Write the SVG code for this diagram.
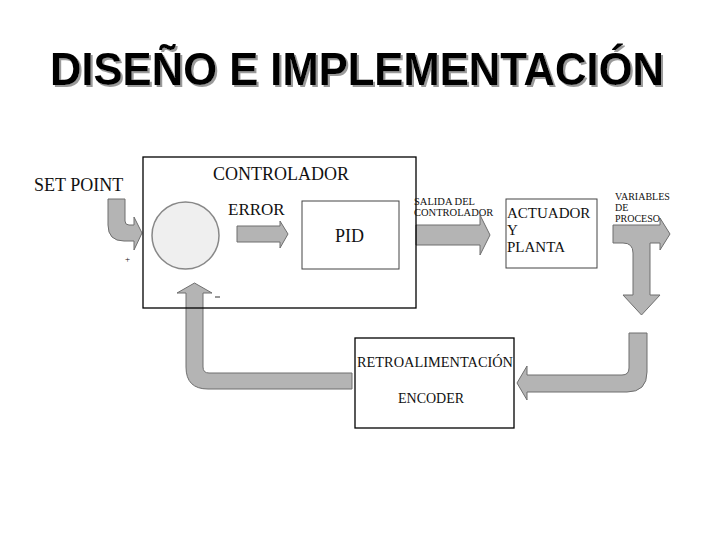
<svg xmlns="http://www.w3.org/2000/svg" width="720" height="540" viewBox="0 0 720 540">
<style>
.title{font-family:"Liberation Sans",Arial,sans-serif;font-weight:bold;font-size:47px}
.t{font-family:"Liberation Serif","Times New Roman",serif;fill:#111}
.arrow{fill:#b4b4b4;stroke:#6f6f6f;stroke-width:1;stroke-linejoin:round}
.box{fill:#fff;stroke:#000;stroke-width:1.3}
</style>
<defs>
<filter id="shadow" x="-5%" y="-20%" width="110%" height="140%">
<feOffset in="SourceAlpha" dx="2" dy="2" result="off"/>
<feFlood flood-color="#9a9a9a"/>
<feComposite in2="off" operator="in" result="sh"/>
<feMerge><feMergeNode in="sh"/><feMergeNode in="SourceGraphic"/></feMerge>
</filter>
</defs>
<rect width="720" height="540" fill="#fff"/>
<g id="title">
<text class="title" x="50" y="85" fill="#000" filter="url(#shadow)" textLength="614" lengthAdjust="spacingAndGlyphs">DISEÑO E IMPLEMENTACIÓN</text>
</g>
<g id="connectors">
<path class="arrow" d="M108,199 L125,199 L125,221 Q125,225 129,225 L134,225 L134,217 L142,233 L134,250 L134,241 L124,241 Q108,241 108,225 Z"/>
<path class="arrow" d="M237,226 L280,226 L280,221 L288,234 L280,248 L280,242 L237,242 Z"/>
<path class="arrow" d="M416,225 L480,225 L480,215 L490,235 L480,255 L480,245 L416,245 Z"/>
<path class="arrow" d="M613,225 L660,225 L660,218 L670,234 L660,250 L660,243 L650,243 L650,295 L660,295 L641.5,315 L623,295 L633,295 L633,253 Q633,243 623,243 L613,243 Z"/>
<path class="arrow" d="M629,333 L647,333 L647,372 Q647,392 627,392 L527,392 L527,400 L517,383 L527,366 L527,375 L622,375 Q629,375 629,368 Z"/>
<path class="arrow" d="M352,373 L209,373 Q203,373 203,367 L203,293 L212,293 L194.5,283 L177,293 L186,293 L186,367 Q186,389 208,389 L352,389 Z"/>
</g>
<g id="setpoint">
<text class="t" x="34" y="191" font-size="18">SET POINT</text>
<text class="t" x="125" y="262" font-size="9">+</text>
</g>
<g id="controlador">
<rect x="143" y="157" width="273" height="151" fill="none" stroke="#000" stroke-width="1.3"/>
<text class="t" x="213" y="180" font-size="18">CONTROLADOR</text>
<line x1="215" y1="297" x2="220" y2="297" stroke="#333" stroke-width="1"/>
</g>
<g id="sumador">
<circle cx="185.5" cy="235.5" r="33.5" fill="#efefef" stroke="#888" stroke-width="1.5"/>
</g>
<g id="error-label">
<text class="t" x="228" y="215" font-size="17">ERROR</text>
</g>
<g id="pid">
<rect x="302" y="201" width="97" height="68" fill="#fff" stroke="#444" stroke-width="1"/>
<text class="t" x="335" y="242" font-size="18">PID</text>
</g>
<g id="salida-label">
<text class="t" x="414" y="205" font-size="10.5">SALIDA DEL</text>
<text class="t" x="414" y="216" font-size="10.5">CONTROLADOR</text>
</g>
<g id="actuador">
<rect x="506" y="199" width="91" height="69" fill="#fff" stroke="#444" stroke-width="1"/>
<text class="t" x="507" y="218" font-size="15">ACTUADOR</text>
<text class="t" x="507" y="235" font-size="15">Y</text>
<text class="t" x="507" y="252" font-size="15">PLANTA</text>
</g>
<g id="variables-label">
<text class="t" x="615" y="200" font-size="10">VARIABLES</text>
<text class="t" x="615" y="211" font-size="10">DE</text>
<text class="t" x="615" y="222" font-size="10">PROCESO</text>
</g>
<g id="encoder">
<rect class="box" x="355" y="338" width="159" height="90"/>
<text class="t" x="357" y="367" font-size="14" textLength="156" lengthAdjust="spacingAndGlyphs">RETROALIMENTACIÓN</text>
<text class="t" x="398" y="403" font-size="14">ENCODER</text>
</g>
</svg>
